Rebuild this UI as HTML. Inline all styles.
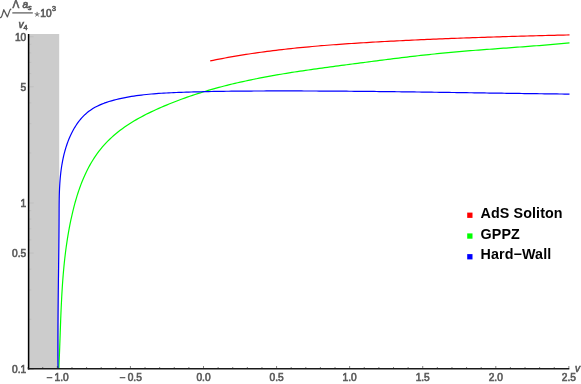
<!DOCTYPE html>
<html>
<head>
<meta charset="utf-8">
<title>Plot</title>
<style>
html,body{margin:0;padding:0;background:#fff;}
body{width:581px;height:384px;overflow:hidden;}
svg{display:block;will-change:transform;}
.tl,.lg{filter:grayscale(1);}
text{font-family:"Liberation Sans",sans-serif;}
.tl text{font-size:10.2px;fill:#595959;stroke:#595959;stroke-width:0.6px;}
.lg text{font-size:14.3px;font-weight:bold;fill:#000;letter-spacing:0.1px;}
</style>
</head>
<body>
<svg width="581" height="384" viewBox="0 0 581 384">
<rect x="0" y="0" width="581" height="384" fill="#ffffff"/>
<!-- shaded forbidden region -->
<rect x="28.5" y="34" width="30.7" height="334.3" fill="#cccccc"/>
<!-- curves -->
<g fill="none" stroke-width="1.2" stroke-linejoin="round" stroke-linecap="butt">
<path stroke="#ff0000" d="M210.20,60.90 L213.17,60.29 L216.15,59.70 L219.12,59.12 L222.10,58.55 L225.08,57.99 L228.06,57.45 L231.04,56.92 L234.03,56.40 L237.02,55.89 L240.01,55.40 L243.00,54.91 L245.99,54.44 L248.98,53.98 L251.98,53.53 L254.97,53.09 L257.97,52.66 L260.97,52.24 L263.97,51.83 L266.97,51.43 L269.98,51.04 L272.98,50.66 L275.99,50.29 L278.99,49.93 L282.00,49.58 L285.01,49.24 L288.02,48.90 L291.03,48.57 L294.05,48.26 L297.06,47.95 L300.07,47.64 L303.09,47.35 L306.11,47.06 L309.12,46.78 L312.14,46.51 L315.16,46.24 L318.18,45.98 L321.20,45.72 L324.22,45.48 L327.24,45.24 L330.27,45.00 L333.29,44.77 L336.31,44.54 L339.34,44.32 L342.36,44.11 L345.39,43.90 L348.41,43.69 L351.44,43.49 L354.46,43.30 L357.49,43.10 L360.52,42.91 L363.54,42.73 L366.57,42.55 L369.60,42.37 L372.62,42.19 L375.65,42.02 L378.68,41.85 L381.71,41.68 L384.73,41.51 L387.76,41.35 L390.79,41.19 L393.82,41.03 L396.84,40.88 L399.87,40.73 L402.90,40.58 L405.93,40.43 L408.95,40.28 L411.98,40.14 L415.01,40.00 L418.04,39.86 L421.07,39.72 L424.09,39.59 L427.12,39.45 L430.15,39.32 L433.18,39.19 L436.21,39.07 L439.24,38.94 L442.26,38.82 L445.29,38.70 L448.32,38.58 L451.35,38.46 L454.38,38.35 L457.41,38.23 L460.43,38.12 L463.46,38.01 L466.49,37.90 L469.52,37.79 L472.55,37.69 L475.58,37.58 L478.61,37.48 L481.64,37.38 L484.66,37.28 L487.69,37.18 L490.72,37.08 L493.75,36.99 L496.78,36.89 L499.81,36.80 L502.84,36.71 L505.87,36.61 L508.90,36.52 L511.93,36.43 L514.96,36.35 L517.99,36.26 L521.02,36.17 L524.05,36.09 L527.08,36.00 L530.11,35.92 L533.14,35.84 L536.17,35.76 L539.20,35.68 L542.23,35.60 L545.26,35.52 L548.29,35.44 L551.32,35.36 L554.35,35.28 L557.38,35.20 L560.41,35.13 L563.44,35.05 L566.47,34.98 L569.50,34.90"/>
<path stroke="#00ff00" d="M58.80,368.60 L58.93,365.84 L59.06,363.07 L59.18,360.31 L59.30,357.54 L59.42,354.78 L59.52,352.01 L59.63,349.25 L59.73,346.48 L59.83,343.72 L59.93,340.95 L60.03,338.19 L60.13,335.43 L60.22,332.66 L60.32,329.90 L60.42,327.14 L60.52,324.37 L60.62,321.61 L60.72,318.85 L60.83,316.09 L60.94,313.32 L61.06,310.56 L61.18,307.80 L61.31,305.04 L61.44,302.28 L61.58,299.53 L61.72,296.77 L61.87,294.01 L62.04,291.26 L62.21,288.50 L62.38,285.75 L62.57,282.99 L62.77,280.24 L62.98,277.49 L63.20,274.74 L63.44,271.99 L63.68,269.24 L63.94,266.49 L64.21,263.74 L64.50,261.00 L64.80,258.26 L65.12,255.51 L65.45,252.77 L65.80,250.03 L66.17,247.29 L66.55,244.56 L66.95,241.82 L67.37,239.09 L67.81,236.35 L68.27,233.62 L68.75,230.89 L69.25,228.16 L69.77,225.44 L70.31,222.71 L70.88,219.99 L71.47,217.27 L72.08,214.55 L72.72,211.83 L73.38,209.12 L74.07,206.42 L74.79,203.72 L75.53,201.03 L76.31,198.35 L77.12,195.68 L77.97,193.02 L78.85,190.38 L79.76,187.76 L80.72,185.16 L81.71,182.57 L82.75,180.01 L83.82,177.47 L84.94,174.95 L86.10,172.46 L87.31,170.00 L88.57,167.56 L89.87,165.16 L91.22,162.79 L92.63,160.45 L94.09,158.15 L95.60,155.89 L97.16,153.66 L98.79,151.47 L100.47,149.33 L102.21,147.23 L104.00,145.17 L105.85,143.16 L107.75,141.19 L109.70,139.26 L111.70,137.38 L113.75,135.54 L115.84,133.75 L117.97,132.01 L120.15,130.31 L122.36,128.65 L124.61,127.05 L126.89,125.48 L129.21,123.96 L131.56,122.48 L133.93,121.03 L136.34,119.63 L138.76,118.26 L141.21,116.92 L143.68,115.61 L146.17,114.34 L148.67,113.10 L151.19,111.88 L153.72,110.69 L156.26,109.52 L158.81,108.38 L161.36,107.26 L163.92,106.16 L166.48,105.08 L169.06,104.03 L171.63,102.99 L174.22,101.97 L176.80,100.97 L179.40,99.99 L181.99,99.04 L184.60,98.10 L187.21,97.17 L189.82,96.27 L192.44,95.38 L195.06,94.52 L197.69,93.67 L200.32,92.83 L202.95,92.01 L205.59,91.21 L208.24,90.43 L210.89,89.66 L213.54,88.91 L216.20,88.17 L218.86,87.45 L221.52,86.74 L224.19,86.04 L226.87,85.36 L229.54,84.70 L232.22,84.04 L234.90,83.40 L237.59,82.78 L240.28,82.16 L242.97,81.56 L245.67,80.97 L248.36,80.39 L251.06,79.82 L253.77,79.27 L256.47,78.72 L259.18,78.19 L261.90,77.66 L264.61,77.14 L267.33,76.64 L270.04,76.14 L272.76,75.65 L275.49,75.17 L278.21,74.70 L280.94,74.24 L283.67,73.78 L286.40,73.34 L289.13,72.90 L291.86,72.46 L294.60,72.03 L297.33,71.61 L300.07,71.20 L302.81,70.79 L305.54,70.38 L308.28,69.98 L311.03,69.59 L313.77,69.20 L316.51,68.81 L319.25,68.43 L322.00,68.05 L324.74,67.67 L327.48,67.30 L330.23,66.93 L332.97,66.56 L335.72,66.19 L338.46,65.83 L341.21,65.46 L343.95,65.10 L346.70,64.74 L349.44,64.38 L352.18,64.02 L354.93,63.65 L357.67,63.29 L360.41,62.93 L363.15,62.58 L365.89,62.22 L368.64,61.86 L371.38,61.50 L374.12,61.15 L376.86,60.79 L379.60,60.44 L382.34,60.09 L385.08,59.74 L387.82,59.40 L390.56,59.05 L393.30,58.71 L396.04,58.37 L398.78,58.04 L401.53,57.70 L404.27,57.37 L407.01,57.04 L409.75,56.72 L412.49,56.40 L415.24,56.08 L417.98,55.77 L420.72,55.46 L423.47,55.15 L426.21,54.85 L428.96,54.56 L431.71,54.26 L434.45,53.98 L437.20,53.69 L439.95,53.42 L442.70,53.14 L445.45,52.88 L448.20,52.61 L450.95,52.36 L453.71,52.11 L456.46,51.86 L459.22,51.62 L461.97,51.39 L464.73,51.16 L467.49,50.93 L470.25,50.71 L473.00,50.49 L475.76,50.27 L478.52,50.06 L481.28,49.85 L484.04,49.64 L486.80,49.43 L489.56,49.23 L492.33,49.03 L495.09,48.82 L497.85,48.62 L500.61,48.42 L503.37,48.22 L506.13,48.03 L508.89,47.83 L511.65,47.63 L514.42,47.43 L517.18,47.22 L519.94,47.02 L522.70,46.82 L525.46,46.61 L528.21,46.40 L530.97,46.19 L533.73,45.97 L536.49,45.76 L539.24,45.54 L542.00,45.31 L544.75,45.08 L547.51,44.85 L550.26,44.61 L553.01,44.37 L555.76,44.12 L558.51,43.87 L561.26,43.61 L564.01,43.35 L566.76,43.08 L569.50,42.80"/>
<path stroke="#0000ff" d="M58.00,368.65 L57.97,366.13 L57.95,363.62 L57.93,361.10 L57.92,358.59 L57.90,356.08 L57.89,353.57 L57.89,351.06 L57.88,348.55 L57.88,346.04 L57.88,343.53 L57.88,341.02 L57.88,338.52 L57.89,336.01 L57.90,333.51 L57.91,331.00 L57.92,328.50 L57.93,326.00 L57.95,323.50 L57.97,320.99 L57.99,318.49 L58.01,315.99 L58.03,313.49 L58.05,310.99 L58.08,308.49 L58.10,305.99 L58.13,303.49 L58.16,300.99 L58.18,298.49 L58.21,296.00 L58.24,293.50 L58.27,291.00 L58.31,288.50 L58.34,286.00 L58.37,283.50 L58.40,281.00 L58.43,278.51 L58.47,276.01 L58.50,273.51 L58.53,271.01 L58.57,268.51 L58.60,266.01 L58.63,263.51 L58.66,261.01 L58.70,258.50 L58.73,256.00 L58.76,253.50 L58.79,251.00 L58.82,248.49 L58.85,245.99 L58.87,243.48 L58.90,240.98 L58.92,238.47 L58.95,235.97 L58.97,233.46 L58.99,230.95 L59.01,228.44 L59.03,225.93 L59.05,223.42 L59.06,220.90 L59.08,218.39 L59.09,215.88 L59.10,213.36 L59.11,210.84 L59.12,208.33 L59.14,205.81 L59.16,203.29 L59.19,200.77 L59.24,198.26 L59.29,195.74 L59.36,193.23 L59.45,190.72 L59.56,188.21 L59.69,185.70 L59.84,183.20 L60.02,180.70 L60.22,178.20 L60.46,175.71 L60.72,173.22 L61.02,170.73 L61.36,168.25 L61.73,165.77 L62.15,163.30 L62.60,160.84 L63.10,158.38 L63.65,155.92 L64.25,153.48 L64.89,151.04 L65.59,148.61 L66.34,146.19 L67.15,143.78 L68.02,141.40 L68.94,139.05 L69.92,136.72 L70.97,134.43 L72.08,132.18 L73.25,129.97 L74.49,127.81 L75.80,125.71 L77.17,123.66 L78.62,121.67 L80.13,119.75 L81.72,117.90 L83.39,116.13 L85.13,114.44 L86.95,112.83 L88.85,111.31 L90.82,109.89 L92.88,108.56 L95.01,107.32 L97.21,106.17 L99.47,105.11 L101.78,104.11 L104.14,103.19 L106.54,102.34 L108.98,101.55 L111.44,100.81 L113.92,100.13 L116.42,99.50 L118.92,98.90 L121.42,98.35 L123.92,97.83 L126.42,97.34 L128.92,96.89 L131.42,96.46 L133.91,96.06 L136.41,95.70 L138.90,95.36 L141.39,95.04 L143.88,94.75 L146.37,94.48 L148.86,94.23 L151.34,94.00 L153.83,93.79 L156.32,93.60 L158.80,93.42 L161.29,93.26 L163.78,93.11 L166.27,92.98 L168.75,92.85 L171.24,92.73 L173.73,92.62 L176.22,92.52 L178.71,92.43 L181.21,92.33 L183.70,92.25 L186.19,92.16 L188.69,92.08 L191.19,92.00 L193.68,91.93 L196.18,91.86 L198.68,91.80 L201.18,91.73 L203.68,91.67 L206.19,91.62 L208.69,91.56 L211.19,91.51 L213.70,91.47 L216.20,91.42 L218.71,91.38 L221.21,91.34 L223.72,91.30 L226.22,91.27 L228.73,91.24 L231.24,91.21 L233.75,91.18 L236.25,91.15 L238.76,91.13 L241.27,91.11 L243.78,91.09 L246.29,91.07 L248.80,91.05 L251.31,91.04 L253.81,91.02 L256.32,91.01 L258.83,91.00 L261.34,90.99 L263.85,90.98 L266.36,90.97 L268.87,90.97 L271.37,90.96 L273.88,90.96 L276.39,90.95 L278.90,90.95 L281.41,90.95 L283.91,90.95 L286.42,90.95 L288.93,90.95 L291.43,90.95 L293.94,90.95 L296.45,90.96 L298.96,90.96 L301.46,90.97 L303.97,90.98 L306.48,90.98 L308.98,90.99 L311.49,91.00 L313.99,91.01 L316.50,91.02 L319.01,91.03 L321.51,91.05 L324.02,91.06 L326.52,91.07 L329.03,91.09 L331.54,91.10 L334.04,91.12 L336.55,91.14 L339.05,91.16 L341.56,91.17 L344.06,91.19 L346.57,91.21 L349.07,91.23 L351.58,91.26 L354.08,91.28 L356.59,91.30 L359.09,91.32 L361.60,91.35 L364.10,91.37 L366.61,91.39 L369.11,91.42 L371.62,91.45 L374.12,91.47 L376.63,91.50 L379.13,91.53 L381.63,91.55 L384.14,91.58 L386.64,91.61 L389.15,91.64 L391.65,91.67 L394.16,91.70 L396.66,91.73 L399.16,91.76 L401.67,91.79 L404.17,91.82 L406.68,91.86 L409.18,91.89 L411.69,91.92 L414.19,91.95 L416.69,91.99 L419.20,92.02 L421.70,92.05 L424.21,92.09 L426.71,92.12 L429.21,92.16 L431.72,92.19 L434.22,92.23 L436.73,92.26 L439.23,92.30 L441.73,92.33 L444.24,92.37 L446.74,92.41 L449.25,92.44 L451.75,92.48 L454.25,92.52 L456.76,92.55 L459.26,92.59 L461.77,92.63 L464.27,92.66 L466.78,92.70 L469.28,92.74 L471.78,92.77 L474.29,92.81 L476.79,92.85 L479.30,92.88 L481.80,92.92 L484.31,92.96 L486.81,92.99 L489.32,93.03 L491.82,93.07 L494.33,93.10 L496.83,93.14 L499.33,93.18 L501.84,93.21 L504.34,93.25 L506.85,93.29 L509.35,93.32 L511.86,93.36 L514.36,93.39 L516.87,93.43 L519.38,93.46 L521.88,93.50 L524.39,93.53 L526.89,93.57 L529.40,93.60 L531.90,93.63 L534.41,93.67 L536.91,93.70 L539.42,93.73 L541.93,93.77 L544.43,93.80 L546.94,93.83 L549.45,93.86 L551.95,93.89 L554.46,93.92 L556.97,93.95 L559.47,93.98 L561.98,94.01 L564.49,94.04 L566.99,94.07 L569.50,94.10"/>
</g>
<!-- ticks -->
<g stroke="#2a2a2a" stroke-width="0.6" fill="none">
<line x1="28.12" y1="368.6" x2="28.12" y2="367"/>
<line x1="42.73" y1="368.6" x2="42.73" y2="367"/>
<line x1="57.35" y1="368.6" x2="57.35" y2="366"/>
<line x1="71.97" y1="368.6" x2="71.97" y2="367"/>
<line x1="86.58" y1="368.6" x2="86.58" y2="367"/>
<line x1="101.2" y1="368.6" x2="101.2" y2="367"/>
<line x1="115.81" y1="368.6" x2="115.81" y2="367"/>
<line x1="130.43" y1="368.6" x2="130.43" y2="366"/>
<line x1="145.04" y1="368.6" x2="145.04" y2="367"/>
<line x1="159.66" y1="368.6" x2="159.66" y2="367"/>
<line x1="174.27" y1="368.6" x2="174.27" y2="367"/>
<line x1="188.88" y1="368.6" x2="188.88" y2="367"/>
<line x1="203.5" y1="368.6" x2="203.5" y2="366"/>
<line x1="218.12" y1="368.6" x2="218.12" y2="367"/>
<line x1="232.73" y1="368.6" x2="232.73" y2="367"/>
<line x1="247.34" y1="368.6" x2="247.34" y2="367"/>
<line x1="261.96" y1="368.6" x2="261.96" y2="367"/>
<line x1="276.57" y1="368.6" x2="276.57" y2="366"/>
<line x1="291.19" y1="368.6" x2="291.19" y2="367"/>
<line x1="305.81" y1="368.6" x2="305.81" y2="367"/>
<line x1="320.42" y1="368.6" x2="320.42" y2="367"/>
<line x1="335.03" y1="368.6" x2="335.03" y2="367"/>
<line x1="349.65" y1="368.6" x2="349.65" y2="366"/>
<line x1="364.26" y1="368.6" x2="364.26" y2="367"/>
<line x1="378.88" y1="368.6" x2="378.88" y2="367"/>
<line x1="393.5" y1="368.6" x2="393.5" y2="367"/>
<line x1="408.11" y1="368.6" x2="408.11" y2="367"/>
<line x1="422.73" y1="368.6" x2="422.73" y2="366"/>
<line x1="437.34" y1="368.6" x2="437.34" y2="367"/>
<line x1="451.96" y1="368.6" x2="451.96" y2="367"/>
<line x1="466.57" y1="368.6" x2="466.57" y2="367"/>
<line x1="481.19" y1="368.6" x2="481.19" y2="367"/>
<line x1="495.8" y1="368.6" x2="495.8" y2="366"/>
<line x1="510.42" y1="368.6" x2="510.42" y2="367"/>
<line x1="525.03" y1="368.6" x2="525.03" y2="367"/>
<line x1="539.64" y1="368.6" x2="539.64" y2="367"/>
<line x1="554.26" y1="368.6" x2="554.26" y2="367"/>
<line x1="568.88" y1="368.6" x2="568.88" y2="366"/>
</g>
<g stroke="#b8b8b8" stroke-width="0.6" fill="none">
<line x1="28.5" y1="369.3" x2="33.7" y2="369.3"/>
<line x1="28.5" y1="319.24" x2="31.3" y2="319.24"/>
<line x1="28.5" y1="289.95" x2="31.3" y2="289.95"/>
<line x1="28.5" y1="269.18" x2="31.3" y2="269.18"/>
<line x1="28.5" y1="253.06" x2="33.7" y2="253.06"/>
<line x1="28.5" y1="239.89" x2="31.3" y2="239.89"/>
<line x1="28.5" y1="228.76" x2="31.3" y2="228.76"/>
<line x1="28.5" y1="219.12" x2="31.3" y2="219.12"/>
<line x1="28.5" y1="210.61" x2="31.3" y2="210.61"/>
<line x1="28.5" y1="203" x2="33.7" y2="203"/>
<line x1="28.5" y1="152.94" x2="31.3" y2="152.94"/>
<line x1="28.5" y1="123.65" x2="31.3" y2="123.65"/>
<line x1="28.5" y1="102.88" x2="31.3" y2="102.88"/>
<line x1="28.5" y1="86.76" x2="33.7" y2="86.76"/>
<line x1="28.5" y1="73.59" x2="31.3" y2="73.59"/>
<line x1="28.5" y1="62.46" x2="31.3" y2="62.46"/>
<line x1="28.5" y1="52.82" x2="31.3" y2="52.82"/>
<line x1="28.5" y1="44.31" x2="31.3" y2="44.31"/>
<line x1="28.5" y1="36.7" x2="33.7" y2="36.7"/>
</g>
<!-- axes -->
<line x1="28.6" y1="34" x2="28.6" y2="369.4" stroke="#000" stroke-width="1.5"/>
<line x1="27.85" y1="368.65" x2="569.3" y2="368.65" stroke="#1a1a1a" stroke-width="1.5"/>
<!-- tick labels -->
<g class="tl">
<text x="46.73" y="381.2">−<tspan dx="1.9">1.0</tspan></text>
<text x="119.81" y="381.2">−<tspan dx="1.9">0.5</tspan></text>
<text x="196.41" y="381.2">0.0</text>
<text x="269.49" y="381.2">0.5</text>
<text x="342.56" y="381.2">1.0</text>
<text x="415.64" y="381.2">1.5</text>
<text x="488.71" y="381.2">2.0</text>
<text x="561.79" y="381.2">2.5</text>
<text x="26.25" y="40.9" text-anchor="end">10</text>
<text x="26.25" y="91.1" text-anchor="end">5</text>
<text x="26.25" y="206.9" text-anchor="end">1</text>
<text x="26.25" y="257" text-anchor="end">0.5</text>
<text x="26.25" y="373.1" text-anchor="end">0.1</text>

<text x="575.0" y="372.4" font-style="italic">v</text>
<!-- y axis title -->
<path d="M0.4,17.6 C1.2,17.4 1.7,16.6 2,15.6 L3.8,9.7 L7.4,16.9 L10,9.9 C10.2,9.4 10.5,9.2 10.9,9.1" fill="none" stroke="#595959" stroke-width="1.25" stroke-linejoin="round" stroke-linecap="round"/>
<text x="12.5" y="7.7">&#923;</text>
<text x="22.4" y="8.0" font-style="italic">a</text>
<text x="28.1" y="9.7" font-style="italic" style="font-size:7.2px">s</text>
<line x1="12.3" y1="12.9" x2="32.8" y2="12.9" stroke="#555" stroke-width="1.2"/>
<text x="18.4" y="27.9" font-style="italic">v</text>
<text x="23.5" y="29.8" style="font-size:7.2px">4</text>
<path d="M37.1,14.4 L37.10,11.90 M37.1,14.4 L39.48,13.63 M37.1,14.4 L38.57,16.42 M37.1,14.4 L35.63,16.42 M37.1,14.4 L34.72,13.63" fill="none" stroke="#595959" stroke-width="0.95"/>
<text x="40.3" y="16.8">10</text>
<text x="51.9" y="11.3" style="font-size:7.2px">3</text>
</g>
<!-- legend -->
<rect x="467.2" y="212.6" width="5.3" height="5.3" fill="#ff0000"/>
<rect x="467.2" y="233.4" width="5.3" height="5.3" fill="#00ff00"/>
<rect x="467.2" y="254.1" width="5.3" height="5.3" fill="#0000ff"/>
<g class="lg">
<text x="480.6" y="218.0">AdS Soliton</text>
<text x="480.6" y="238.9">GPPZ</text>
<text x="480.6" y="259.2">Hard&#8722;Wall</text>
</g>
</svg>
</body>
</html>
